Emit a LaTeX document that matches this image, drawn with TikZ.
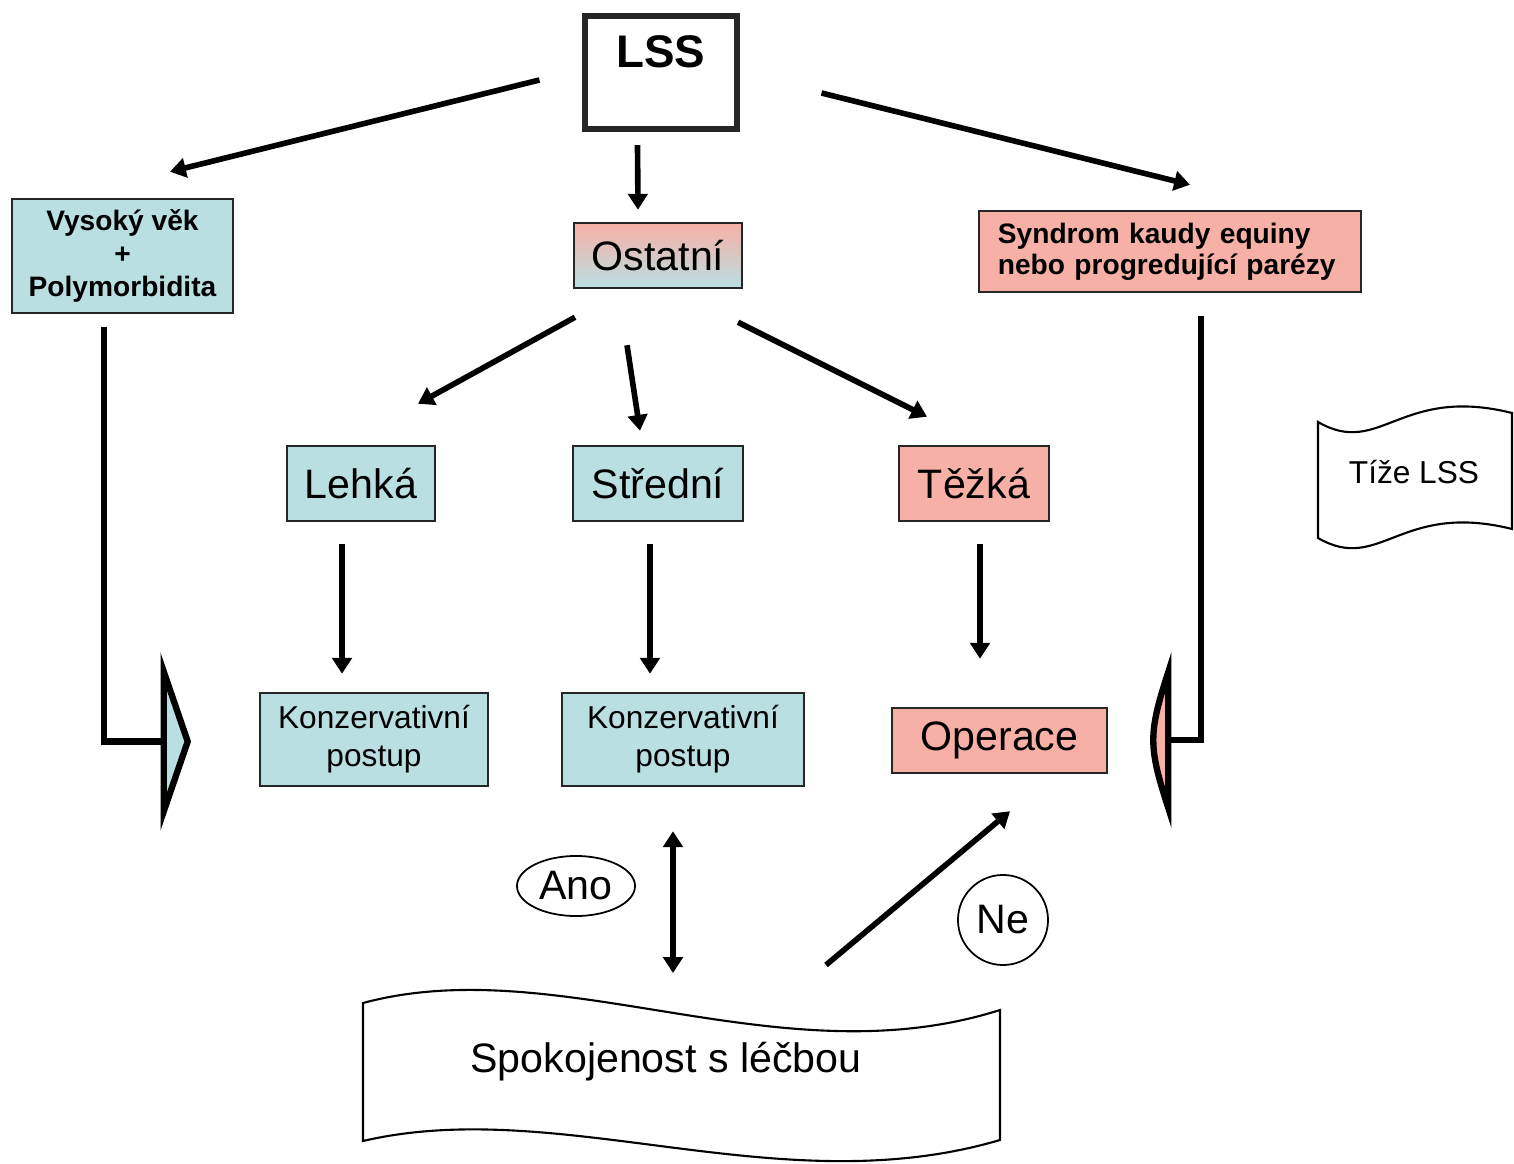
\documentclass[tikz,border=0pt]{standalone}
\usepackage{fontspec}
\setmainfont{Liberation Sans}
\usetikzlibrary{calc,arrows.meta,shapes.geometric}

\definecolor{boxblue}{RGB}{186,223,227}
\definecolor{boxsalmon}{RGB}{247,176,166}

\tikzset{
  box/.style={draw=black!85, line width=0.7pt, inner sep=0pt, align=center},
  bluebox/.style={box, fill=boxblue},
  redbox/.style={box, fill=boxsalmon},
  arr/.style={line width=1.6pt, -{Triangle[length=4.5pt,width=5.5pt]}},
  dblarr/.style={line width=1.6pt, {Triangle[length=4.5pt,width=5.5pt]}-{Triangle[length=4.5pt,width=5.5pt]}},
  bigtext/.style={font=\fontsize{11.7}{14}\selectfont},
  midtext/.style={font=\fontsize{9}{10.8}\selectfont},
  smallbold/.style={font=\fontsize{8}{9.5}\selectfont\bfseries},
  bracket/.style={line width=1.8pt},
  wave/.style={draw, line width=0.6pt},
  bubble/.style={draw, ellipse, line width=0.5pt, inner sep=0pt, bigtext}
}

\begin{document}
\begin{tikzpicture}[x=0.01cm,y=-0.01cm]
\useasboundingbox (0,0) rectangle (1514,1164);

% boxes
\node[box, line width=1.7pt, minimum width=1.51cm, text height=0.52cm, text depth=0.61cm,
  anchor=base, font=\fontsize{13}{15}\selectfont\bfseries] (lss) at (661,68) {LSS};
\node[bluebox, smallbold, minimum width=2.21cm, minimum height=1.14cm] (vysoky) at (122.5,256)
  {Vysoký věk\\+\\Polymorbidita};
\node[box, top color=boxsalmon, bottom color=boxblue, bigtext, minimum width=1.68cm,
  minimum height=0.65cm] (ostatni) at (658,255.5) {Ostatní};
\node[redbox, font=\fontsize{8}{8.8}\selectfont\bfseries, minimum height=0.81cm, text width=3.44cm,
  align=left, inner xsep=0.19cm] (syndrom) at (1170,251.5)
  {Syndrom kaudy equiny\\nebo progredující parézy};

\node[bluebox, bigtext, minimum width=1.48cm, minimum height=0.75cm] (lehka) at (361,483.5) {Lehká};
\node[bluebox, bigtext, minimum width=1.70cm, minimum height=0.75cm] (stredni) at (658,483.5) {Střední};
\node[redbox, bigtext, minimum width=1.50cm, minimum height=0.75cm] (tezka) at (974,483.5) {Těžká};

\node[bluebox, font=\fontsize{9}{10.8}\selectfont, minimum width=2.28cm, minimum height=0.93cm] (konz1)
  at (374,739.5) {Konzervativní\\postup};
\node[bluebox, font=\fontsize{9}{10.8}\selectfont, minimum width=2.42cm, minimum height=0.93cm] (konz2)
  at (683,739.5) {Konzervativní\\postup};
\node[redbox, bigtext, minimum width=2.15cm, minimum height=0.65cm] (operace) at (999.5,740.5) {Operace};

\node[midtext] (tize) at (1414,472) {Tíže LSS};
\node[bigtext] (spok) at (666,1062) {Spokojenost s léčbou};
\node[bubble, minimum width=1.18cm, minimum height=0.60cm] (ano) at (576,886) {Ano};
\node[bubble, minimum width=0.90cm, minimum height=0.90cm] (ne) at (1003,920) {Ne};

% wavy frames
\begin{scope}[shift={(tize.center)}]
  \draw[wave] (-96,-50) .. controls (-34,-14) and (-14,-87) .. (98,-59) -- (98,57)
    .. controls (-14,29) and (-34,102) .. (-96,66) -- cycle;
\end{scope}
\begin{scope}[shift={(spok.center)}]
  \draw[wave] (-303,-59) .. controls (-106,-112) and (114,18) .. (334,-52) -- (334,78)
    .. controls (114,143) and (-106,33) .. (-303,79) -- cycle;
\end{scope}

% arrows
\draw[arr] ($(lss.west)+(-43,7.5)$) -- ($(vysoky.north)+(47.5,-26)$);
\draw[arr] ($(lss.south)+(-23.5,13)$) -- ($(ostatni.north)+(-20,-12)$);
\draw[arr] ($(lss.east)+(82,20.5)$) -- ($(syndrom.north)+(20,-25)$);
\draw[arr] ($(ostatni.south)+(-83,28)$) -- ($(lehka.north)+(57,-41)$);
\draw[arr] ($(ostatni.south)+(-31,56)$) -- ($(stredni.north)+(-18,-14)$);
\draw[arr] ($(ostatni.south)+(80,33)$) -- ($(tezka.north)+(-47,-28)$);
\draw[arr] ($(lehka.south)+(-19,22)$) -- ($(konz1.north)+(-32,-18)$);
\draw[arr] ($(stredni.south)+(-8,22)$) -- ($(konz2.north)+(-33,-18)$);
\draw[arr] ($(tezka.south)+(6,22)$) -- ($(operace.north)+(-19.5,-48)$);
\draw[dblarr] ($(konz2.south)+(-10,44)$) -- ($(spok.center)+(7,-89)$);
\draw[arr] ($(spok.center)+(160,-97)$) -- ($(operace.south)+(10.5,37)$);

% side brackets
\coordinate (lefttip) at ($(konz1.west)+(-71,2)$);
\draw[bracket] ($(vysoky.south)+(-18.5,13)$) |- ($(lefttip)+(-24,0)$);
\draw[bracket, fill=boxblue] ($(lefttip)+(-24,-70)$) -- (lefttip) -- ($(lefttip)+(-24,70)$) -- cycle;

\coordinate (righttip) at ($(operace.east)+(45,-0.5)$);
\draw[bracket] ($(syndrom.south)+(31,23)$) |- ($(righttip)+(15,0)$);
\draw[bracket, fill=boxsalmon] ($(righttip)+(15,-68)$) .. controls ($(righttip)+(6,-40)$) and ($(righttip)+(0,-20)$)
  .. (righttip) .. controls ($(righttip)+(0,20)$) and ($(righttip)+(6,40)$) .. ($(righttip)+(15,68)$) -- cycle;

\end{tikzpicture}
\end{document}
